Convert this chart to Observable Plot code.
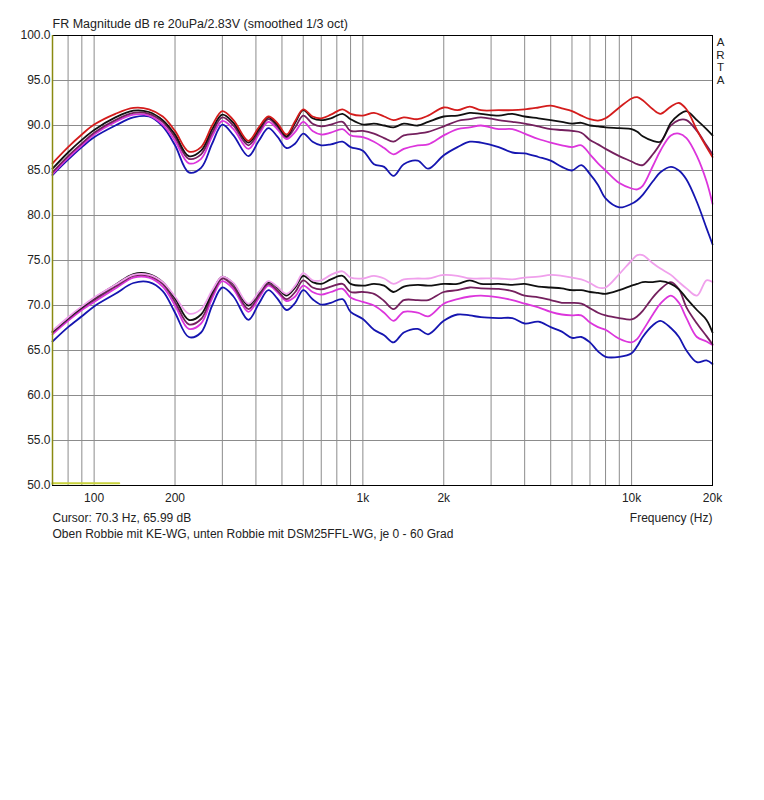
<!DOCTYPE html>
<html>
<head>
<meta charset="utf-8">
<script src="https://cdn.jsdelivr.net/npm/d3@7"></script>
<script src="https://cdn.jsdelivr.net/npm/@observablehq/plot@0.6"></script>
<style>
  body { margin: 0; background: #fff; }
  svg { display: block; }
</style>
</head>
<body>
<div id="chart"></div>
<script>
const freqs = [70, 80, 90, 100, 120, 140, 160, 180, 200, 225, 250, 275, 300, 330, 375, 410, 445, 480, 520, 560, 600, 650, 700, 760, 840, 900, 1000, 1100, 1200, 1300, 1420, 1600, 1750, 2000, 2250, 2500, 2750, 3200, 3600, 4000, 4500, 5000, 5500, 6000, 6500, 7000, 7500, 8000, 9000, 10000, 10500, 11000, 12000, 12800, 14000, 15000, 16000, 17500, 19000, 20000];

// Upper group: Robbie mit KE-WG
const upperRed = [85.8, 87.6, 89.0, 90.1, 91.3, 91.95, 91.8, 91.0, 89.4, 87.1, 87.6, 90.0, 91.6, 90.6, 88.3, 89.8, 91.0, 90.3, 89.0, 90.5, 91.8, 91.0, 90.8, 91.2, 91.8, 91.3, 91.1, 91.4, 91.0, 90.6, 90.9, 90.7, 91.1, 92.0, 91.7, 92.1, 91.7, 91.7, 91.7, 91.8, 92.0, 92.2, 91.9, 91.6, 91.1, 90.7, 90.55, 90.8, 92.0, 93.0, 93.15, 92.8, 91.8, 91.3, 92.1, 92.5, 91.8, 89.5, 87.6, 86.5];
const upperBlack = [85.2, 87.0, 88.4, 89.5, 90.9, 91.65, 91.5, 90.6, 89.0, 86.6, 87.2, 89.6, 91.2, 90.3, 88.1, 89.6, 90.9, 90.1, 88.8, 90.3, 91.7, 90.8, 90.6, 90.8, 91.3, 90.7, 90.1, 90.2, 90.0, 89.8, 90.2, 90.0, 90.4, 91.0, 91.1, 91.4, 91.3, 91.1, 91.3, 91.0, 90.8, 90.6, 90.4, 90.2, 90.3, 90.0, 89.9, 89.8, 89.7, 89.6, 89.3, 88.8, 88.3, 88.2, 90.3, 91.2, 91.6, 90.6, 89.6, 88.9];
const upperPurple = [84.8, 86.6, 88.0, 89.2, 90.6, 91.4, 91.3, 90.4, 88.7, 86.3, 86.8, 89.2, 90.9, 90.0, 87.8, 89.3, 90.7, 89.9, 88.7, 89.8, 91.1, 90.2, 89.9, 90.1, 90.4, 89.4, 89.4, 89.1, 88.6, 88.2, 88.9, 89.1, 89.3, 89.9, 90.5, 90.7, 90.9, 90.6, 90.4, 90.2, 89.9, 89.6, 89.5, 89.4, 89.2, 88.4, 87.9, 87.4, 86.6, 86.0, 85.7, 85.6, 86.8, 88.0, 90.0, 90.6, 90.6, 89.4, 87.8, 86.8];
const upperMagenta = [84.6, 86.4, 87.8, 89.0, 90.4, 91.2, 91.1, 90.1, 88.3, 85.8, 86.3, 88.8, 90.5, 89.6, 87.4, 89.0, 90.4, 89.6, 88.5, 89.3, 90.4, 89.4, 89.0, 89.2, 89.6, 88.9, 88.7, 88.2, 87.5, 86.8, 87.4, 87.8, 87.9, 88.9, 89.6, 89.8, 90.0, 89.6, 89.6, 89.1, 88.5, 88.1, 87.8, 87.6, 87.8, 86.8, 85.8, 85.0, 83.6, 83.0, 82.9, 83.3, 85.5, 87.2, 88.9, 89.1, 88.6, 86.6, 83.8, 81.3];
const upperBlue = [84.5, 86.2, 87.6, 88.7, 90.0, 90.9, 91.0, 89.9, 87.8, 84.8, 85.3, 88.0, 90.1, 88.9, 86.6, 88.3, 89.7, 88.8, 87.5, 88.0, 89.1, 88.2, 87.8, 87.9, 88.2, 87.6, 87.2, 85.7, 85.4, 84.4, 85.7, 86.1, 85.2, 86.7, 87.6, 88.2, 88.1, 87.6, 87.0, 86.9, 86.5, 86.1, 85.4, 85.0, 85.6, 84.6, 83.4, 81.9, 80.9, 81.3, 81.7, 82.3, 83.8, 84.8, 85.4, 85.0, 84.0, 81.5, 78.6, 76.8];

// Lower group: Robbie mit DSM25FFL-WG
const lowerBlack = [67.1, 68.6, 69.8, 70.8, 72.3, 73.5, 73.5, 72.6, 70.8, 68.4, 69.0, 71.5, 73.2, 72.4, 70.0, 71.4, 72.6, 72.0, 71.1, 72.0, 73.3, 72.6, 72.4, 72.9, 73.3, 72.4, 72.2, 72.4, 72.2, 71.5, 72.1, 72.3, 72.2, 72.4, 72.4, 72.8, 72.4, 72.4, 72.3, 72.4, 72.1, 72.0, 71.9, 71.7, 71.7, 71.5, 71.4, 71.3, 71.7, 72.2, 72.4, 72.6, 72.6, 72.7, 72.4, 71.8, 70.8, 69.5, 68.4, 67.0];
const lowerPink = [67.2, 68.7, 69.9, 70.9, 72.3, 73.4, 73.4, 72.6, 71.0, 69.1, 69.6, 71.7, 73.2, 72.5, 70.2, 71.5, 72.7, 72.1, 71.3, 72.2, 73.6, 72.8, 72.8, 73.4, 73.8, 73.1, 73.0, 73.3, 73.0, 72.4, 72.9, 73.0, 73.0, 73.4, 73.3, 73.0, 73.0, 73.0, 72.9, 73.1, 73.2, 73.4, 73.3, 73.1, 72.9, 72.5, 72.0, 72.0, 73.5, 75.0, 75.6, 75.6, 74.7, 74.1, 73.4, 72.6, 71.9, 71.1, 72.8, 72.6];
const lowerPurple = [67.0, 68.5, 69.7, 70.6, 72.1, 73.3, 73.3, 72.4, 70.4, 67.9, 68.5, 71.2, 73.0, 72.1, 69.6, 71.1, 72.4, 71.7, 70.7, 71.5, 72.8, 72.0, 71.8, 72.1, 72.4, 71.5, 71.5, 71.3, 70.5, 69.6, 70.6, 70.6, 70.6, 71.5, 71.7, 72.0, 71.9, 71.85, 71.6, 71.1, 70.9, 70.6, 70.3, 70.3, 70.2, 69.7, 69.2, 68.9, 68.6, 68.45, 68.8, 69.4, 70.9, 71.8, 72.6, 71.8, 69.8, 68.0, 66.6, 65.7];
const lowerMagenta = [66.8, 68.3, 69.5, 70.4, 71.9, 73.1, 73.1, 72.1, 70.0, 67.4, 68.0, 70.8, 72.7, 71.8, 69.3, 70.8, 72.2, 71.5, 70.5, 71.0, 72.2, 71.5, 71.2, 71.5, 71.85, 70.9, 70.4, 70.0, 69.2, 68.3, 69.3, 69.2, 68.8, 70.2, 70.7, 71.0, 71.1, 70.9, 70.6, 70.2, 69.8, 69.3, 69.0, 68.9, 68.9, 68.1, 67.6, 67.3, 66.3, 65.9, 66.3, 67.2, 69.0, 70.2, 71.1, 70.3, 68.6, 66.5, 66.0, 65.6];
const lowerBlue = [66.0, 67.6, 68.8, 69.9, 71.3, 72.5, 72.6, 71.6, 69.2, 66.5, 67.0, 70.0, 72.0, 71.0, 68.4, 70.2, 71.7, 70.8, 69.5, 70.3, 71.7, 70.7, 70.1, 70.3, 70.7, 69.3, 68.5, 67.3, 66.7, 65.9, 67.0, 67.4, 66.8, 68.3, 69.0, 68.9, 68.7, 68.6, 68.6, 68.0, 68.2, 67.6, 67.1, 66.4, 66.5, 65.9, 64.9, 64.3, 64.3, 64.7, 65.5, 66.5, 67.8, 68.3, 67.5, 66.5, 65.0, 63.7, 63.9, 63.5];

const seriesNames = ["upperBlue", "upperMagenta", "upperPurple", "upperBlack", "upperRed",
                     "lowerBlue", "lowerMagenta", "lowerPurple", "lowerBlack", "lowerPink"];
const seriesValues = [upperBlue, upperMagenta, upperPurple, upperBlack, upperRed,
                      lowerBlue, lowerMagenta, lowerPurple, lowerBlack, lowerPink];
const seriesColors = ["#1515b0", "#dc35dc", "#74205e", "#101010", "#d41c1c",
                      "#1515b0", "#dc35dc", "#74205e", "#101010", "#f0a0ec"];

const xGrid = [80, 90, 100, 200, 300, 400, 500, 600, 700, 800, 900, 1000, 2000, 3000, 4000, 5000, 6000, 7000, 8000, 9000, 10000];
const yGrid = [55, 60, 65, 70, 75, 80, 85, 90, 95];
const xTickValues = [100, 200, 500, 1000, 2000, 5000, 10000, 20000];
const xTickLabels = ["100", "200", "500", "1k", "2k", "5k", "10k", "20k"];
const yTickValues = [50, 55, 60, 65, 70, 75, 80, 85, 90, 95, 100];
const artaLetters = ["A", "R", "T", "A"];

const markerFreqs = [70, 124];
const markerDb = [50.25, 50.25];

const rows = [];
seriesNames.forEach((name, i) => {
  freqs.forEach((f, j) => rows.push({series: name, f, db: seriesValues[i][j]}));
});
const marker = markerFreqs.map((f, i) => ({f, db: markerDb[i]}));

const artaMarks = artaLetters.map((ch, i) =>
  Plot.text([ch], {frameAnchor: "top-right", dx: 8, dy: 7 + i * 12.6, textAnchor: "middle", lineAnchor: "middle", fontSize: 11.5, fill: "#222"})
);

const chart = Plot.plot({
  width: 764,
  height: 545,
  marginTop: 35,
  marginLeft: 52,
  marginRight: 52,
  marginBottom: 60,
  style: {fontFamily: "'Liberation Sans', Arial, sans-serif", fontSize: "12px", color: "#222", background: "#fff"},
  x: {type: "log", domain: [70, 20000], ticks: xTickValues, tickFormat: d => xTickLabels[xTickValues.indexOf(d)], tickSize: 0, tickPadding: 8, label: null},
  y: {domain: [50, 100], ticks: yTickValues, tickFormat: d3.format(".1f"), tickSize: 0, tickPadding: 2, label: null},
  color: {domain: seriesNames, range: seriesColors},
  marks: [
    Plot.ruleX(xGrid, {stroke: "#8c8c8c", strokeWidth: 1}),
    Plot.ruleY(yGrid, {stroke: "#8c8c8c", strokeWidth: 1}),
    Plot.line(rows, {x: "f", y: "db", z: "series", stroke: "series", strokeWidth: 1.8, curve: "catmull-rom"}),
    Plot.line(marker, {x: "f", y: "db", stroke: "#c8d23c", strokeWidth: 2}),
    Plot.frame({stroke: "#000", strokeWidth: 1}),
    Plot.ruleX([70], {stroke: "#8a8a10", strokeWidth: 1.5}),
    Plot.text(["FR Magnitude dB re 20uPa/2.83V (smoothed 1/3 oct)"], {frameAnchor: "top-left", dy: -12, textAnchor: "start", lineAnchor: "middle", fontSize: 12.5, fill: "#222"}),
    ...artaMarks,
    Plot.text(["Cursor: 70.3 Hz, 65.99 dB"], {frameAnchor: "bottom-left", dy: 33, textAnchor: "start", lineAnchor: "middle", fill: "#222"}),
    Plot.text(["Frequency (Hz)"], {frameAnchor: "bottom-right", dy: 33, textAnchor: "end", lineAnchor: "middle", fill: "#222"}),
    Plot.text(["Oben Robbie mit KE-WG, unten Robbie mit DSM25FFL-WG, je 0 - 60 Grad"], {frameAnchor: "bottom-left", dy: 49, textAnchor: "start", lineAnchor: "middle", fill: "#222"})
  ]
});
document.getElementById("chart").appendChild(chart);
</script>
</body>
</html>
